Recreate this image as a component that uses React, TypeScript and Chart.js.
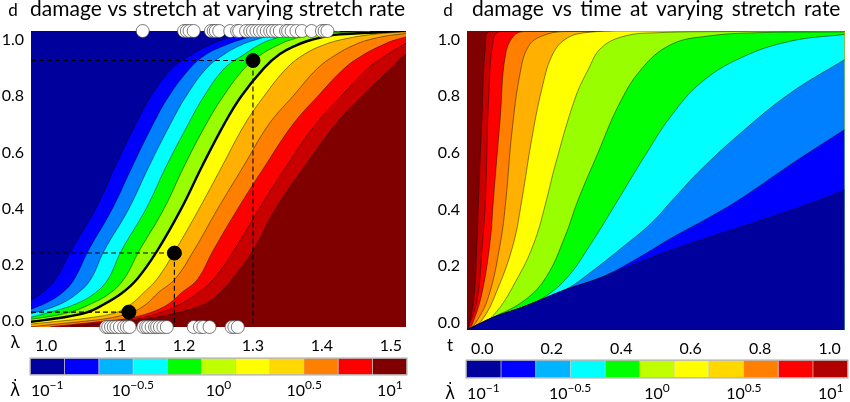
import { useEffect, useRef } from "react"
import { Chart, registerables } from "chart.js"

Chart.register(...registerables)

const FONT = "Lato, 'Noto Sans', sans-serif"

// shared damage levels for the curves of the left panel
const damageLevels = [-0.02, 0, 0.01, 0.03, 0.06, 0.1, 0.15, 0.25, 0.4, 0.55, 0.7, 0.8, 0.9, 0.95, 0.98, 1.0, 1.02, 1.032]

// stretch reached at each damage level, one list per stretch rate
const stretchA = [0.846, 0.897, 0.919, 0.941, 0.967, 0.994, 1.014, 1.036, 1.072, 1.1, 1.13, 1.152, 1.183, 1.212, 1.235, 1.255, 1.288, 1.335]
const stretchB = [0.861, 0.912, 0.933, 0.962, 0.996, 1.023, 1.041, 1.061, 1.096, 1.125, 1.155, 1.178, 1.209, 1.233, 1.259, 1.281, 1.313, 1.368]
const stretchC = [0.868, 0.919, 0.945, 0.983, 1.02, 1.046, 1.065, 1.084, 1.12, 1.149, 1.18, 1.203, 1.233, 1.259, 1.281, 1.303, 1.336, 1.397]
const stretchD = [0.875, 0.941, 0.97, 1.003, 1.042, 1.071, 1.09, 1.109, 1.145, 1.174, 1.206, 1.229, 1.259, 1.288, 1.307, 1.325, 1.358, 1.426]
const stretchE = [0.89, 0.955, 0.988, 1.032, 1.064, 1.093, 1.113, 1.135, 1.171, 1.2, 1.232, 1.257, 1.288, 1.313, 1.335, 1.354, 1.39, 1.47]
const stretchF = [0.919, 0.986, 1.016, 1.058, 1.084, 1.11, 1.132, 1.161, 1.196, 1.226, 1.258, 1.283, 1.316, 1.339, 1.362, 1.384, 1.426, 1.542]
const stretchG = [0.941, 1.02, 1.057, 1.101, 1.123, 1.141, 1.161, 1.187, 1.222, 1.255, 1.288, 1.316, 1.349, 1.375, 1.4, 1.426, 1.474, 1.542]
const stretchH = [0.977, 1.057, 1.09, 1.123, 1.145, 1.162, 1.187, 1.214, 1.249, 1.286, 1.323, 1.358, 1.394, 1.422, 1.445, 1.467, 1.51, 1.586]
const stretchI = [1.006, 1.086, 1.119, 1.151, 1.177, 1.196, 1.22, 1.242, 1.278, 1.317, 1.358, 1.394, 1.433, 1.462, 1.486, 1.506, 1.542, 1.614]
const stretchJ = [1.02, 1.104, 1.136, 1.165, 1.194, 1.22, 1.243, 1.272, 1.309, 1.348, 1.391, 1.428, 1.467, 1.496, 1.516, 1.533, 1.571, 1.629]
const stretchK = [1.035, 1.119, 1.151, 1.191, 1.23, 1.252, 1.27, 1.3, 1.333, 1.375, 1.42, 1.458, 1.501, 1.523, 1.564, 1.607, 1.658, 1.716]
const stretchCurves = [stretchA, stretchB, stretchC, stretchD, stretchE, stretchF, stretchG, stretchH, stretchI, stretchJ, stretchK]

// measured fibers along the top and bottom edge of the left panel
const topStretches = [1.14, 1.2, 1.204, 1.208, 1.214, 1.239, 1.243, 1.246, 1.251, 1.267, 1.277, 1.28, 1.29, 1.296, 1.3, 1.305, 1.31, 1.315, 1.32, 1.325, 1.329, 1.334, 1.339, 1.348, 1.351, 1.356, 1.363, 1.371, 1.385, 1.4, 1.404, 1.408]
const bottomStretches = [1.087, 1.09, 1.094, 1.098, 1.102, 1.107, 1.113, 1.117, 1.121, 1.141, 1.145, 1.148, 1.153, 1.158, 1.161, 1.165, 1.17, 1.175, 1.214, 1.223, 1.228, 1.237, 1.269, 1.273, 1.278]
const markerStretch = [1.3, 1.186, 1.12]
const markerDamage = [0.927, 0.242, 0.032]

// right panel, [time, damage] along each curve
const timeQ1 = [[-0.044, -0.026], [0.032, 0.019], [0.114, 0.054], [0.238, 0.116], [0.343, 0.16], [0.505, 0.239], [0.658, 0.304], [0.792, 0.357], [0.973, 0.434], [1.043, 0.469]]
const timeQ2 = [[-0.044, -0.026], [0.032, 0.019], [0.114, 0.054], [0.238, 0.116], [0.343, 0.16], [0.448, 0.228], [0.543, 0.298], [0.649, 0.369], [0.739, 0.434], [0.887, 0.558], [1.043, 0.682]]
const timeQ3 = [[-0.044, -0.026], [0.032, 0.019], [0.114, 0.054], [0.238, 0.116], [0.314, 0.18], [0.4, 0.263], [0.486, 0.351], [0.548, 0.434], [0.629, 0.54], [0.744, 0.67], [0.887, 0.811], [1.043, 0.929]]
const timeQ4 = [[-0.044, -0.026], [0.032, 0.019], [0.114, 0.054], [0.181, 0.092], [0.247, 0.163], [0.314, 0.281], [0.391, 0.434], [0.467, 0.587], [0.543, 0.729], [0.629, 0.847], [0.744, 0.935], [0.887, 0.994], [1.043, 1.018]]
const timeQ5 = [[-0.044, -0.026], [0.032, 0.019], [0.123, 0.08], [0.185, 0.163], [0.238, 0.304], [0.276, 0.434], [0.333, 0.599], [0.391, 0.764], [0.457, 0.894], [0.543, 0.982], [0.649, 1.012], [0.792, 1.024], [1.043, 1.027]]
const timeQ6 = [[-0.044, -0.026], [0.028, 0.021], [0.104, 0.163], [0.152, 0.292], [0.185, 0.434], [0.209, 0.552], [0.266, 0.788], [0.305, 0.894], [0.343, 0.971], [0.41, 1.012], [0.505, 1.024], [0.696, 1.028], [1.043, 1.03]]
const timeQ7 = [[-0.044, -0.026], [-0.001, 0.009], [0.047, 0.127], [0.09, 0.281], [0.114, 0.434], [0.142, 0.646], [0.171, 0.823], [0.2, 0.941], [0.238, 1.0], [0.295, 1.024], [0.41, 1.03], [1.043, 1.03]]
const timeQ8 = [[-0.044, -0.026], [-0.02, -0.002], [0.018, 0.092], [0.052, 0.281], [0.068, 0.434], [0.085, 0.67], [0.109, 0.882], [0.133, 0.976], [0.171, 1.012], [0.238, 1.028], [1.043, 1.03]]
const timeQ9 = [[-0.044, -0.026], [-0.03, -0.008], [-0.001, 0.104], [0.023, 0.292], [0.032, 0.434], [0.052, 0.729], [0.066, 0.941], [0.09, 1.012], [0.123, 1.028], [1.043, 1.03]]
const timeQ10 = [[-0.044, -0.026], [-0.039, -0.014], [-0.015, 0.08], [-0.001, 0.257], [0.009, 0.434], [0.018, 0.788], [0.032, 1.0], [0.052, 1.028], [1.043, 1.03]]
const timeQ11 = [[-0.044, -0.026], [-0.041, -0.02], [-0.025, 0.08], [-0.015, 0.292], [-0.011, 0.434], [-0.001, 0.729], [0.009, 0.976], [0.023, 1.028], [1.043, 1.03]]
const timeCurves = [timeQ1, timeQ2, timeQ3, timeQ4, timeQ5, timeQ6, timeQ7, timeQ8, timeQ9, timeQ10, timeQ11]

// band colours from the low-rate side to the high-rate side
const bandColors = ["#0000ff", "#0080ff", "#00ffff", "#00ff00", "#99ff00", "#ffff00", "#ffb000", "#ff8000", "#ff0000", "#c80000", "#800000"]

const yTicks = [0, 0.2, 0.4, 0.6, 0.8, 1]
const stretchTicks = [1, 1.1, 1.2, 1.3, 1.4, 1.5]
const timeTicks = [0, 0.2, 0.4, 0.6, 0.8, 1]

// colour bar
const rateLow = [-1.1, -0.9, -0.7, -0.5, -0.3, -0.1, 0.1, 0.3, 0.5, 0.7, 0.9]
const rateHigh = [-0.9, -0.7, -0.5, -0.3, -0.1, 0.1, 0.3, 0.5, 0.7, 0.9, 1.1]
const barColorsLeft = ["#00009c", "#0000ff", "#00b4ff", "#00ffff", "#00ff00", "#c0ff00", "#ffff00", "#ffd800", "#ff8000", "#ff0000", "#800000"]
const barColorsRight = ["#00009c", "#0000ff", "#00b4ff", "#00ffff", "#00ff00", "#c0ff00", "#ffff00", "#ffd800", "#ff8000", "#ff0000", "#b00000"]
const rateTicks = [-1, -0.5, 0, 0.5, 1]
const rateExponents = ["\u22121", "\u22120.5", "0", "0.5", "1"]

function curveStyle(color: string, index: number, thickIndex: number) {
  return {
    showLine: true,
    fill: "start",
    backgroundColor: color,
    borderColor: index === thickIndex ? "#000000" : "rgba(0,0,0,0.65)",
    borderWidth: index === thickIndex ? 2.4 : 0.7,
    pointRadius: 0,
    tension: 0.4,
  }
}

function Panel(props: any) {
  const ref = useRef<HTMLCanvasElement | null>(null)

  useEffect(() => {
    if (!ref.current) return

    const chart = new Chart(ref.current, {
      type: "scatter",
      data: { datasets: props.datasets },
      options: {
        animation: false,
        responsive: false,
        layout: { padding: { top: props.area.top, right: props.width - props.area.right, left: 0, bottom: 0 } },
        plugins: { legend: { display: false }, tooltip: { enabled: false } },
        scales: {
          x: {
            type: "linear",
            min: props.xMin,
            max: props.xMax,
            afterBuildTicks: (s: any) => {
              s.ticks = props.xTicks.map((value: number) => ({ value }))
            },
            afterFit: (s: any) => {
              s.height = props.height - props.area.bottom
            },
            grid: { display: false, drawTicks: false },
            border: { display: false },
            ticks: {
              padding: 9,
              maxRotation: 0,
              autoSkip: false,
              color: "#000",
              font: { family: FONT, size: 16 },
              callback: (v: any) => Number(v).toFixed(1),
            },
          },
          y: {
            type: "linear",
            min: props.yMin,
            max: props.yMax,
            afterBuildTicks: (s: any) => {
              s.ticks = yTicks.map((value) => ({ value }))
            },
            afterFit: (s: any) => {
              s.width = props.area.left
            },
            grid: { display: false, drawTicks: false },
            border: { display: false },
            ticks: {
              padding: 7,
              autoSkip: false,
              color: "#000",
              font: { family: FONT, size: 16 },
              callback: (v: any) => Number(v).toFixed(1),
            },
          },
        },
      },
      plugins: [
        {
          id: "panelFrame",
          beforeDatasetsDraw(c: any) {
            const { left, top, width, height } = c.chartArea
            c.ctx.fillStyle = props.background
            c.ctx.fillRect(left, top, width, height)
          },
          afterDraw(c: any) {
            const ctx = c.ctx
            ctx.save()
            ctx.fillStyle = "#000"
            ctx.textBaseline = "alphabetic"
            ctx.font = `21px ${FONT}`
            ctx.wordSpacing = props.wordSpacing
            ctx.fillText(props.title, props.titleX, 16)
            ctx.wordSpacing = "0px"
            ctx.font = `17px ${FONT}`
            ctx.textAlign = "center"
            ctx.fillText("d", props.dX, 16)
            ctx.fillText(props.xName, props.dX + 2, props.xNameY)
            ctx.restore()
          },
        },
      ],
    })

    return () => chart.destroy()
  }, [])

  return (
    <canvas
      ref={ref}
      width={props.width}
      height={props.height}
      style={{ position: "absolute", left: props.left, top: 0, display: "block" }}
    />
  )
}

function ColorBar(props: any) {
  const ref = useRef<HTMLCanvasElement | null>(null)

  useEffect(() => {
    if (!ref.current) return

    const chart = new Chart(ref.current, {
      type: "bar",
      data: {
        labels: ["rate"],
        datasets: rateLow.map((low, i) => ({
          data: [[low, rateHigh[i]]] as any,
          backgroundColor: props.colors[i],
          borderColor: "rgba(0,0,0,0.2)",
          borderWidth: 1,
          grouped: false,
          categoryPercentage: 1,
          barPercentage: 1,
        })),
      },
      options: {
        indexAxis: "y",
        animation: false,
        responsive: false,
        layout: { padding: props.padding },
        plugins: { legend: { display: false }, tooltip: { enabled: false } },
        scales: {
          x: { type: "linear", min: -1.1, max: 1.1, display: false },
          y: { type: "category", display: false },
        },
      },
      plugins: [
        {
          id: "rateTicks",
          afterDraw(c: any) {
            const ctx = c.ctx
            const { left, top, width, height, bottom } = c.chartArea
            ctx.save()
            ctx.strokeStyle = "#aaaaaa"
            ctx.lineWidth = 1
            ctx.strokeRect(left, top, width, height)
            ctx.fillStyle = "#000"
            ctx.textBaseline = "alphabetic"
            rateTicks.forEach((tick, i) => {
              const x = c.scales.x.getPixelForValue(tick)
              ctx.font = `16px ${FONT}`
              const base = ctx.measureText("10").width
              ctx.font = `12px ${FONT}`
              const power = ctx.measureText(rateExponents[i]).width
              const start = x - (base + power) / 2
              ctx.font = `16px ${FONT}`
              ctx.fillText("10", start, bottom + 21)
              ctx.font = `12px ${FONT}`
              ctx.fillText(rateExponents[i], start + base, bottom + 14)
            })
            ctx.font = "17px 'DejaVu Sans'"
            ctx.textAlign = "center"
            ctx.fillText("\u03bb\u0307", props.nameX, bottom + 21)
            ctx.restore()
          },
        },
      ],
    })

    return () => chart.destroy()
  }, [])

  return (
    <canvas
      ref={ref}
      width={425}
      height={52}
      style={{ position: "absolute", left: props.left, top: 350, display: "block" }}
    />
  )
}

export default function App() {
  const stretchSets = [
    {
      data: topStretches.map((x) => ({ x, y: 1.032 })),
      pointRadius: 6.5,
      pointBackgroundColor: "#fff",
      pointBorderColor: "#444",
      pointBorderWidth: 0.7,
      showLine: false,
      clip: false,
    },
    {
      data: bottomStretches.map((x) => ({ x, y: -0.021 })),
      pointRadius: 6.5,
      pointBackgroundColor: "#fff",
      pointBorderColor: "#444",
      pointBorderWidth: 0.7,
      showLine: false,
      clip: false,
    },
    {
      data: markerStretch.map((x, i) => ({ x, y: markerDamage[i] })),
      pointRadius: 7,
      pointBackgroundColor: "#000",
      pointBorderColor: "#000",
      showLine: false,
    },
    ...markerStretch.map((x, i) => ({
      data: [
        { x: 0.978, y: markerDamage[i] },
        { x, y: markerDamage[i] },
        { x, y: -0.021 },
      ],
      showLine: true,
      borderColor: "#000",
      borderWidth: 1.1,
      borderDash: [5, 3],
      pointRadius: 0,
    })),
    ...stretchCurves
      .map((curve, i) => ({
        data: curve.map((x, j) => ({ x, y: damageLevels[j] })),
        ...curveStyle(bandColors[i], i, 5),
      }))
      .reverse(),
  ]

  const timeSets = timeCurves.map((curve, i) => ({
    data: curve.map(([x, y]) => ({ x, y })),
    ...curveStyle(["#00009c", ...bandColors.slice(0, 10)][i], i, -1),
  }))

  return (
    <div style={{ position: "absolute", left: 0, top: 0, width: 850, height: 402, overflow: "hidden", background: "#fff" }}>
      <Panel
        left={0}
        width={425}
        height={360}
        area={{ left: 31, top: 31, right: 406, bottom: 327 }}
        xMin={0.978}
        xMax={1.522}
        yMin={-0.021}
        yMax={1.032}
        xTicks={stretchTicks}
        datasets={stretchSets}
        background="#00009c"
        title="damage vs stretch at varying stretch rate"
        titleX={30}
        wordSpacing="0.3px"
        dX={13}
        xName={"\u03bb"}
        xNameY={348}
      />
      <Panel
        left={425}
        width={425}
        height={360}
        area={{ left: 42, top: 31, right: 421, bottom: 330 }}
        xMin={-0.044}
        xMax={1.043}
        yMin={-0.026}
        yMax={1.03}
        xTicks={timeTicks}
        datasets={timeSets}
        background="#800000"
        title="damage vs time at varying stretch rate"
        titleX={47}
        wordSpacing="3px"
        dX={23}
        xName="t"
        xNameY={351}
      />
      <ColorBar left={0} colors={barColorsLeft} padding={{ left: 30, right: 18, top: 8, bottom: 27 }} nameX={15} />
      <ColorBar left={425} colors={barColorsRight} padding={{ left: 41, right: 2, top: 10, bottom: 24 }} nameX={25} />
    </div>
  )
}
